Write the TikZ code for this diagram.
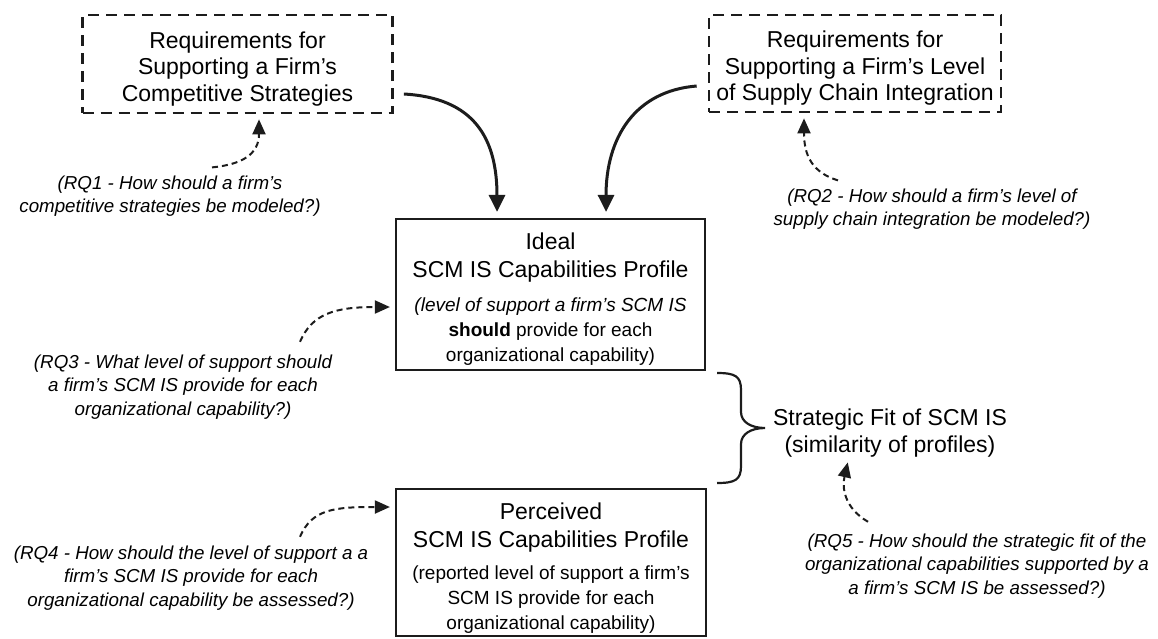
\documentclass[tikz,border=0pt]{standalone}
\usepackage{fontspec}
\setmainfont{Liberation Sans}
\usetikzlibrary{arrows.meta}

\definecolor{ink}{HTML}{1C1C1C}

\begin{document}
\begin{tikzpicture}[x=1pt,y=-1pt,
  reqbox/.style={draw=ink, line width=2.7pt, dash pattern=on 11pt off 7pt, inner sep=0pt},
  reqtext/.style={align=center, font=\fontsize{23}{26.5}\selectfont, inner sep=0pt},
  capbox/.style={draw=ink, line width=2.2pt, inner sep=0pt},
  titletext/.style={align=center, font=\fontsize{23}{28}\selectfont, inner sep=0pt},
  subtext/.style={align=center, font=\fontsize{19}{25}\selectfont, inner sep=0pt},
  rqtext/.style={align=center, font=\fontsize{18.75}{23.3}\selectfont\itshape, inner sep=0pt},
  flow/.style={draw=ink, line width=3pt, -{Triangle[width=16pt,length=17pt]}, shorten >=6pt},
  question/.style={draw=ink, line width=2pt, dash pattern=on 6pt off 4pt,
    -{Triangle[width=13pt,length=15pt]}, shorten >=5pt},
  bracestyle/.style={draw=ink, line width=2.2pt}
]
\useasboundingbox (0,0) rectangle (1158,638);

% requirement boxes
\node[reqbox, minimum width=310pt, minimum height=98pt] (req1) at (237.5,64) {};
\node[reqtext] (req1T) at (237.5,69)
  {Requirements for\\Supporting a Firm’s\\Competitive Strategies};
\node[reqbox, minimum width=292pt, minimum height=97pt] (req2) at (855,63.5) {};
\node[reqtext] (req2T) at (855,68.5)
  {Requirements for\\Supporting a Firm’s Level\\of Supply Chain Integration};

% capability profiles
\node[capbox, minimum width=309pt, minimum height=151pt] (ideal) at (550.5,294.5) {};
\node[titletext] (idealT) at (550.5,258) {Ideal\\SCM IS Capabilities Profile};
\node[subtext] (idealS) at (550.5,331.5)
  {\textit{(level of support a firm’s SCM IS}\\\textbf{should} provide for each\\organizational capability)};

\node[capbox, minimum width=310pt, minimum height=147pt] (perc) at (551,562.5) {};
\node[titletext] (percT) at (551,528) {Perceived\\SCM IS Capabilities Profile};
\node[subtext] (percS) at (551,599.5)
  {(reported level of support a firm’s\\SCM IS provide for each\\organizational capability)};

% strategic fit
\node[titletext, font=\fontsize{23}{27}\selectfont] (fit) at (890,433)
  {Strategic Fit of SCM IS\\(similarity of profiles)};
\coordinate (braceTop) at (717,373);
\draw[bracestyle] (braceTop)
  .. controls +(18,0) and +(0,-14) .. ++(24,17) -- ++(0,22)
  .. controls +(0,10) and +(-14,0) .. ++(24,16)
  .. controls +(-14,0) and +(0,-10) .. ++(-24,16) -- ++(0,22)
  .. controls +(0,14) and +(18,0) .. ++(-24,17);

% research questions
\node[rqtext] (rq1) at (170,196) {(RQ1 - How should a firm’s\\competitive strategies be modeled?)};
\node[rqtext] (rq2) at (932,209) {(RQ2 - How should a firm’s level of\\supply chain integration be modeled?)};
\node[rqtext] (rq3) at (183,387) {(RQ3 - What level of support should\\a firm’s SCM IS provide for each\\organizational capability?)};
\node[rqtext] (rq4) at (191,578) {(RQ4 - How should the level of support a a\\firm’s SCM IS provide for each\\organizational capability be assessed?)};
\node[rqtext] (rq5) at (977,566) {(RQ5 - How should the strategic fit of the\\organizational capabilities supported by a\\a firm’s SCM IS be assessed?)};

% requirements feed the ideal profile
\draw[flow] ([shift={(10,30)}]req1.east) .. controls +(70,4) and +(0,-80) .. ([xshift=-53.5pt]ideal.north);
\draw[flow] ([shift={(-11,22.5)}]req2.west) .. controls +(-62,5) and +(0,-80) .. ([xshift=55.5pt]ideal.north);

% questions point at what they address
\draw[question] ([shift={(42,-8)}]rq1.north) .. controls +(30,-3) and +(0,40) .. ([xshift=21.5pt]req1.south);
\draw[question] ([shift={(-94,-8)}]rq2.north) .. controls +(-26,-8) and +(0,42) .. ([xshift=-51pt]req2.south);
\draw[question] ([shift={(117,-13)}]rq3.north) .. controls +(12,-28) and +(-60,0) .. ([yshift=-12.5pt]ideal.west);
\draw[question] ([shift={(109,-9)}]rq4.north) .. controls +(12,-28) and +(-60,0) .. ([yshift=55.5pt]perc.west);
\draw[question, shorten >=1pt] ([shift={(-109,-12)}]rq5.north) .. controls +(-24,-14) and +(-6,26) .. ([xshift=-42pt,yshift=-4pt]fit.south);
\end{tikzpicture}
\end{document}
